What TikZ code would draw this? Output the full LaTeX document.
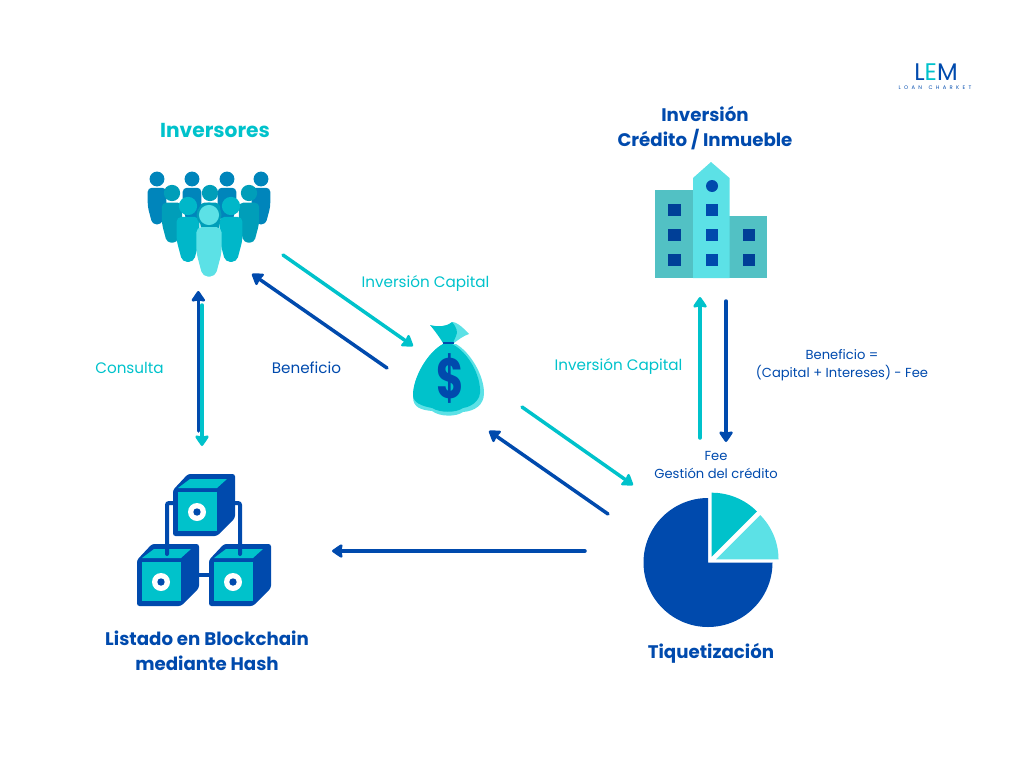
\documentclass[tikz,border=0pt]{standalone}
\usepackage{fontspec}
\setmainfont{Poppins}
\usepackage{tikz}
\usetikzlibrary{arrows.meta}
\usetikzlibrary{positioning}
\definecolor{mblue}{HTML}{004AAD}
\definecolor{mcyan}{HTML}{00C2CB}
\definecolor{mlight}{HTML}{5CE1E6}
\definecolor{mteal}{HTML}{52C1C4}
\definecolor{mnavy}{HTML}{003F97}
\definecolor{pblue}{HTML}{0085BB}
\definecolor{pmid}{HTML}{009EB9}
\definecolor{pcyan}{HTML}{00B7C9}
\tikzset{
  title/.style = {font=\bfseries\fontsize{18.2}{25.4}\selectfont, text=mblue, align=center, inner sep=0},
  lab/.style = {font=\fontsize{15.2}{19}\selectfont, inner sep=0, align=center},
  labs/.style = {font=\fontsize{13.1}{18}\selectfont, text=mblue, inner sep=0, align=center},
  cyanarrow/.style = {draw=mcyan, line width=3.5pt, line cap=round, -{Triangle[length=12pt,width=16pt,inset=1.5pt,round]}},
  bluearrow/.style = {draw=mblue, line width=3.5pt, line cap=round, -{Triangle[length=12pt,width=16pt,inset=1.5pt,round]}},
  window/.style = {fill=mnavy, inner sep=0, minimum size=12.5pt},
}
% one person: head and body
\newcommand{\person}[4]{%
  \fill [#4] (#1, #2) circle (#3*0.72);
  \fill [#4, rounded corners=#3*0.38] (#1-#3*0.9, #2+#3*0.86) -- (#1+#3*0.9, #2+#3*0.86)
    -- (#1+#3*0.9, #2+#3*2.7) -- (#1+#3*0.45, #2+#3*4.4)
    -- (#1-#3*0.45, #2+#3*4.4) -- (#1-#3*0.9, #2+#3*2.7) -- cycle;
}
% one block: cube with eye
\newcommand{\block}[2]{%
  \fill [mblue, rounded corners=2.5pt] (#1-24, #2-22) -- (#1-9, #2-38) -- (#1+38, #2-38)
    -- (#1+38, #2+6) -- (#1+20, #2+24) -- (#1-24, #2+24) -- cycle;
  \fill [mcyan] (#1-19, #2-24) -- (#1-7, #2-33) -- (#1+30, #2-33) -- (#1+20, #2-24) -- cycle;
  \fill [mcyan] (#1-19, #2-20) rectangle (#1+20, #2+19);
  \fill [white] (#1, #2) circle (9);
  \fill [mblue] (#1, #2) circle (3.7);
}
\begin{document}
\begin{tikzpicture}[x=1pt, y=-1pt]
  \useasboundingbox (0, 0) rectangle (1024, 768);

  % logo
  \node (logo) [font=\fontsize{24}{24}\selectfont, text=mblue, inner sep=0] at (936, 72) {L\textcolor{mcyan}{E}M};
  \node (logosub) [font=\fontsize{5.2}{6}\selectfont, text=mblue, inner sep=0] at (935, 88) {\spaceskip=3.3pt\relax L O A N \ C H A R K E T};

  % titles
  \node (inversores) [title, text=mcyan, font=\bfseries\fontsize{20.2}{25}\selectfont] at (215, 130) {Inversores};
  \node (inversion) [title] at (705, 128) {Inversión\\Crédito / Inmueble};
  \node (listado) [title] at (207, 651) {Listado en Blockchain\\mediante Hash};
  \node (tiquet) [title] at (711, 653) {Tiquetización};

  % people
  \foreach \px in {157, 192, 227, 261} {\person{\px}{179}{10.3}{pblue}}
  \foreach \px in {172, 210, 249} {\person{\px}{193}{11.3}{pmid}}
  \foreach \px in {188, 231} {\person{\px}{206}{12.7}{pcyan}}
  \fill [pmid] (209, 215) circle (12.5);
  \person{209}{215}{14}{mlight}

  % money bag
  \fill [mlight] (452, 322) .. controls (458, 322) and (465, 330) .. (469, 334)
    .. controls (463, 336) and (458, 340) .. (454, 343) -- (450, 335) -- cycle;
  \fill [mcyan] (430, 325) .. controls (438, 327) and (446, 327) .. (452, 322)
    .. controls (457, 328) and (458, 332) .. (456, 336) -- (453, 343) -- (443, 343)
    .. controls (440, 338) and (435, 331) .. (430, 325) -- cycle;
  \fill [mlight] (443, 344) .. controls (428, 352) and (413, 377) .. (413, 397)
    .. controls (413, 408) and (422, 410) .. (432, 411) .. controls (440, 417) and (456, 417) .. (463, 412)
    .. controls (475, 411) and (484, 405) .. (484, 393) .. controls (484, 375) and (470, 352) .. (456, 344) -- cycle;
  \fill [mcyan] (443, 344) .. controls (428, 352) and (413, 377) .. (413, 395)
    .. controls (413, 403) and (422, 406) .. (432, 408) .. controls (440, 413) and (456, 413) .. (463, 408)
    .. controls (470, 407) and (479, 402) .. (480, 393) .. controls (481, 375) and (468, 352) .. (452, 344) -- cycle;
  \draw [mblue, line width=2pt] (443, 343) -- (454, 343);
  \node (dollar) [font=\bfseries\fontsize{42}{42}\selectfont, text=mblue, inner sep=0] at (450, 379) {\scalebox{1}[1.35]{\$}};

  % building
  \fill [mteal] (655, 190) rectangle (693, 278);
  \fill [mteal] (729, 216) rectangle (767, 278);
  \fill [mlight] (693, 278) -- (693, 178) -- (711, 162) -- (729.5, 178) -- (729.5, 278) -- cycle;
  \fill [mblue] (712, 186) circle (6);
  \foreach \wx/\wy in {674.5/210, 674.5/235, 749/235, 674.5/260, 749/260}
    {\node [window] at (\wx, \wy) {};}
  \foreach \wy in {210, 235, 260}
    {\node [window, fill=mblue] at (712, \wy) {};}

  % blocks
  \block{197}{512}
  \block{161}{582}
  \block{233}{582}
  \draw [mblue, line width=4pt, line cap=round, rounded corners=2pt] (167, 554) -- (167, 503) -- (173, 503);
  \draw [mblue, line width=4pt, line cap=round, rounded corners=2pt] (240, 554) -- (240, 503) -- (235, 503);
  \draw [mblue, line width=4pt] (195, 575) -- (210, 575);

  % pie
  \fill [mblue] (708, 562.5) -- ++(0, -64.5) arc [start angle=90, end angle=360, radius=64.5pt] -- cycle;
  \fill [mcyan] (711.7, 556.7) -- ++(0, -64) arc [start angle=90, end angle=45, radius=64pt] -- cycle;
  \fill [mlight] (716, 559.3) -- ++(44.2, -44.2) arc [start angle=45, end angle=0, radius=62.5pt] -- cycle;

  % connectors
  \coordinate (inva) at (283, 255);
  \coordinate (bag) at (413, 346);
  \coordinate (bagb) at (387, 368);
  \coordinate (invb) at (252, 274);
  \coordinate (invc) at (198.3, 291);
  \coordinate (blockc) at (198.3, 431);
  \coordinate (invd) at (202, 305);
  \coordinate (blockd) at (202, 446);
  \coordinate (bagc) at (522, 407);
  \coordinate (tiqa) at (633, 485);
  \coordinate (tiqb) at (608, 514);
  \coordinate (bagd) at (489, 431);
  \coordinate (tiqc) at (585, 551);
  \coordinate (blocke) at (332, 551);
  \coordinate (tiqd) at (700, 438);
  \coordinate (builda) at (700, 297);
  \coordinate (buildb) at (726, 301);
  \coordinate (tiqe) at (726, 442);

  \draw [cyanarrow] (inva) -- (bag);
  \draw [bluearrow] (bagb) -- (invb);
  \draw [cyanarrow] (invd) -- (blockd);
  \draw [bluearrow] (blockc) -- (invc);
  \draw [cyanarrow] (bagc) -- (tiqa);
  \draw [bluearrow] (tiqb) -- (bagd);
  \draw [bluearrow] (tiqc) -- (blocke);
  \draw [cyanarrow] (tiqd) -- (builda);
  \draw [bluearrow] (buildb) -- (tiqe);

  % labels
  \node (capa) [lab, text=mcyan] at (425.5, 283) {Inversión Capital};
  \node (bena) [lab, text=mblue] at (306.5, 367.5) {Beneficio};
  \node (cons) [lab, text=mcyan] at (129.5, 367.5) {Consulta};
  \node (capb) [lab, text=mcyan] at (618.5, 366) {Inversión Capital};
  \node (benb) [labs] at (842, 365) {Beneficio =\\(Capital + Intereses) - Fee};
  \node (fee) [labs] at (716, 465) {Fee\\Gestión del crédito};
\end{tikzpicture}
\end{document}
